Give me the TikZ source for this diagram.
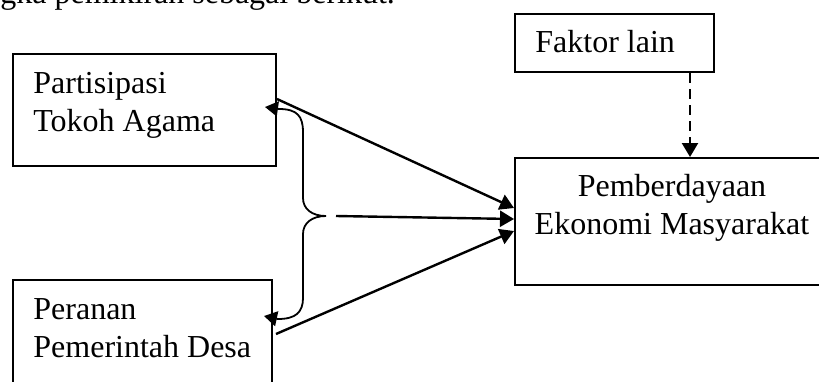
\documentclass[tikz,border=0pt]{standalone}
\usepackage{fontspec}
\setmainfont{Liberation Serif}
\usetikzlibrary{arrows.meta,calc}
\begin{document}
\begin{tikzpicture}[x=0.5pt,y=-0.5pt,
  box/.style={draw, line width=1pt, inner sep=0pt, anchor=north west},
  lbl/.style={inner sep=0pt, anchor=base west, font=\fontsize{16}{19}\selectfont},
  tipend/.style={-{Triangle[length=7pt,width=8pt]}},
  conn/.style={line width=1.2pt, tipend},
  dashconn/.style={line width=1.2pt, dash pattern=on 5pt off 3pt, -{Triangle[length=7pt,width=8pt]}},
  bracket/.style={line width=0.9pt, {Triangle[length=6.5pt,width=7.5pt]}-{Triangle[length=6.5pt,width=7.5pt]}}]
\useasboundingbox (0,0) rectangle (819,381);
\clip (0,0) rectangle (819,381);
% boxes
\node[box, minimum width=131.5pt, minimum height=56pt] (A) at (12,53) {};
\node[box, minimum width=129.5pt, minimum height=58pt] (B) at (12,279) {};
\node[box, minimum width=99.5pt, minimum height=29pt] (F) at (514,13) {};
\node[box, minimum width=158pt, minimum height=63.5pt] (Y) at (514,157) {};
% texts
\node[lbl] (top) at (0,3) {gka pemikiran sebagai berikut.};
\node[lbl] (tA) at (33,93) {\begin{tabular}[t]{@{}l@{}}Partisipasi\\Tokoh Agama\end{tabular}};
\node[lbl] (tB) at (33,319) {\begin{tabular}[t]{@{}l@{}}Peranan\\Pemerintah Desa\end{tabular}};
\node[lbl] (tF) at (535,52) {Faktor lain};
\node[lbl, anchor=base] (tY) at (672,196) {\begin{tabular}[t]{@{}c@{}}Pemberdayaan\\Ekonomi Masyarakat\end{tabular}};
% brace between the two left boxes
\coordinate (bt) at ($(A.east)+(-12,-3)$);
\coordinate (bb) at ($(B.east)+(-9,-22)$);
\coordinate (bm) at (326,216);
\draw[bracket] (bt) -- ++(14,2) .. controls ++(18,0) and (303,116) .. (303,132)
  -- (303,198) .. controls (303,209) and (312,216) .. (bm)
  .. controls (312,216) and (303,223) .. (303,234)
  -- (303,298) .. controls (303,312) and ($(bb)+(32,3)$) .. ($(bb)+(14,3)$) -- (bb);
% connectors
\draw[conn] ($(A.east)+(0,-11)$) -- ($(Y.west)+(0,-13.5)$);
\draw[conn] ($(bm)+(10,0)$) -- ($(Y.west)+(0,-2.5)$);
\draw[conn] ($(B.east)+(3,-4)$) -- ($(Y.west)+(0,9.5)$);
\coordinate (d1) at ($(F.south east)+(-25,0)$);
\draw[dashconn] (d1) -- (d1 |- Y.north);
\end{tikzpicture}
\end{document}
